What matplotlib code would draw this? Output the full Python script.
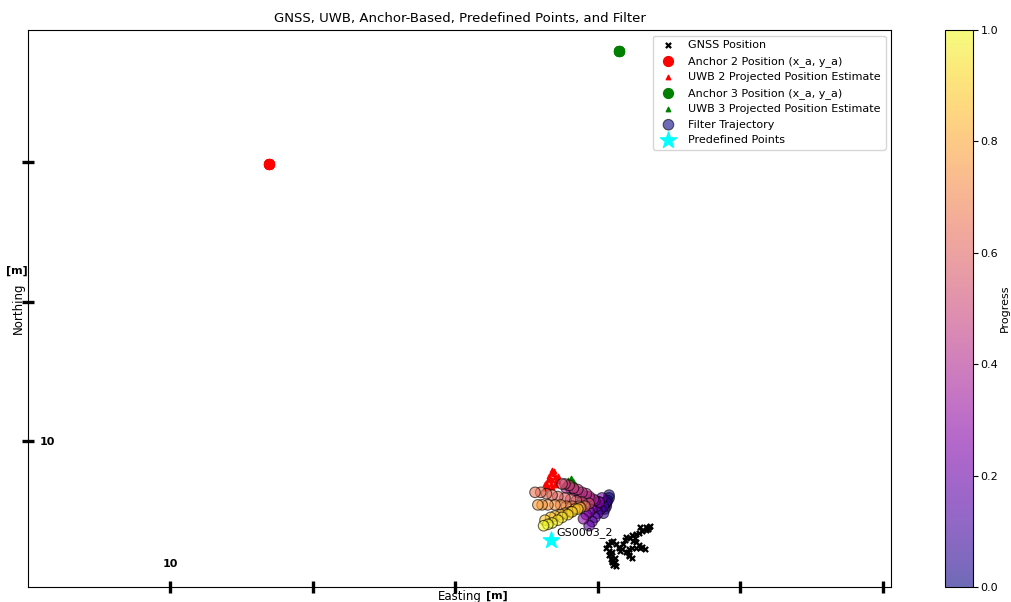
import numpy as np
import matplotlib
matplotlib.use("Agg")
import matplotlib.pyplot as plt
from matplotlib.ticker import FixedLocator, FixedFormatter

# GNSS fixes [m]
gnss_e = [13.37, 13.36, 13.34, 13.31, 13.29, 13.27, 13.24, 13.23, 13.25, 13.27,
          13.29, 13.31, 13.33, 13.30, 13.27, 13.24, 13.22, 13.21, 13.22, 13.24,
          13.22, 13.20, 13.17, 13.15, 13.13, 13.11, 13.09, 13.08, 13.06, 13.08,
          13.10, 13.09, 13.08, 13.09, 13.10, 13.12, 13.13, 13.11, 13.10, 13.15,
          13.16, 13.18, 13.34, 13.30, 13.20, 13.19, 13.07, 13.12, 13.35, 13.26]
gnss_n = [9.39, 9.38, 9.36, 9.35, 9.34, 9.33, 9.32, 9.30, 9.28, 9.27,
          9.25, 9.24, 9.22, 9.23, 9.23, 9.23, 9.22, 9.20, 9.18, 9.16,
          9.17, 9.20, 9.22, 9.24, 9.26, 9.28, 9.27, 9.25, 9.23, 9.21,
          9.20, 9.19, 9.18, 9.15, 9.14, 9.13, 9.10, 9.11, 9.13, 9.23,
          9.21, 9.26, 9.38, 9.38, 9.31, 9.29, 9.26, 9.16, 9.37, 9.30]

# anchors
anchor2 = (10.69, 11.99)
anchor3 = (13.15, 12.80)

# UWB projected estimates
uwb2_e = [12.68, 12.69, 12.66, 12.70, 12.65, 12.68, 12.72, 12.63, 12.67, 12.70,
          12.63, 12.65, 12.72, 12.71, 12.67, 12.64, 12.69, 12.66, 12.71, 12.68]
uwb2_n = [9.79, 9.76, 9.75, 9.74, 9.72, 9.72, 9.71, 9.69, 9.69, 9.69,
          9.66, 9.67, 9.75, 9.68, 9.77, 9.70, 9.78, 9.73, 9.72, 9.67]
uwb3_e = [12.79, 12.81, 12.83, 12.77, 12.80, 12.84, 12.76, 12.79, 12.82, 12.81]
uwb3_n = [9.72, 9.71, 9.71, 9.70, 9.69, 9.69, 9.68, 9.67, 9.68, 9.73]

# filter output
filt_e = [13.08, 13.08, 13.07, 13.06, 13.06, 13.05, 13.04,
          13.06, 13.04, 13.02, 13.00, 12.98, 12.96, 12.94,
          13.03, 13.01, 12.99, 12.96, 12.94, 12.92, 12.90,
          13.01, 12.98, 12.95, 12.92, 12.89, 12.87, 12.84, 12.81, 12.78,
          12.97, 12.94, 12.92, 12.89, 12.86, 12.83, 12.80, 12.77, 12.75,
          12.94, 12.89, 12.85, 12.81, 12.77, 12.72, 12.68, 12.64, 12.60, 12.56,
          12.91, 12.87, 12.82, 12.78, 12.74, 12.70, 12.65, 12.61, 12.58,
          12.88, 12.84, 12.81, 12.77, 12.74, 12.70, 12.67, 12.63,
          12.86, 12.82, 12.79, 12.75, 12.72, 12.68, 12.65, 12.62]
filt_n = [9.61, 9.59, 9.57, 9.55, 9.53, 9.51, 9.48,
          9.56, 9.53, 9.51, 9.48, 9.45, 9.42, 9.39,
          9.59, 9.56, 9.53, 9.51, 9.49, 9.47, 9.44,
          9.56, 9.57, 9.58, 9.60, 9.61, 9.63, 9.64, 9.66, 9.66,
          9.58, 9.60, 9.62, 9.63, 9.65, 9.66, 9.68, 9.69, 9.69,
          9.55, 9.56, 9.57, 9.58, 9.59, 9.60, 9.61, 9.62, 9.63, 9.63,
          9.53, 9.53, 9.53, 9.53, 9.54, 9.54, 9.54, 9.54, 9.54,
          9.52, 9.51, 9.49, 9.48, 9.47, 9.46, 9.45, 9.43,
          9.51, 9.49, 9.47, 9.45, 9.43, 9.41, 9.40, 9.39]
progress = np.linspace(0, 1, len(filt_e))

# predefined points
point_names = ["GS0003_2"]
point_e = [12.67]
point_n = [9.29]

x_ticks = [10, 11, 12, 13, 14, 15]
x_ticklabels = ["10", "", "", "", "", ""]
y_ticks = [10, 11, 12]
y_ticklabels = ["10", "", ""]

fig = plt.figure(figsize=(10.12, 6.02), dpi=100)
ax = fig.add_axes([0.0277, 0.0249, 0.8528, 0.9252])
cax = fig.add_axes([0.9338, 0.0249, 0.0277, 0.9252])

ax.scatter(gnss_e, gnss_n, marker='x', color='black', s=14, linewidths=1.6,
           label='GNSS Position')
ax.scatter([anchor2[0]] * 5, [anchor2[1]] * 5, marker='o', color='red', s=50,
           label='Anchor 2 Position (x_a, y_a)')
ax.scatter(uwb2_e, uwb2_n, marker='^', color='red', s=10,
           label='UWB 2 Projected Position Estimate')
ax.scatter([anchor3[0]] * 5, [anchor3[1]] * 5, marker='o', color='green', s=50,
           label='Anchor 3 Position (x_a, y_a)')
ax.scatter(uwb3_e, uwb3_n, marker='^', color='green', s=10,
           label='UWB 3 Projected Position Estimate')
sc = ax.scatter(filt_e, filt_n, c=progress, cmap='plasma', vmin=0, vmax=1,
                alpha=0.6, edgecolors='black', linewidths=0.8, s=58,
                label='Filter Trajectory')
ax.scatter(point_e, point_n, marker='*', color='cyan', s=150,
           label='Predefined Points')
for name, e, n in zip(point_names, point_e, point_n):
    ax.text(e + 0.04, n + 0.03, name, fontsize=8)

ax.set_xlim(9.0, 15.06)
ax.set_ylim(8.95, 12.95)
ax.xaxis.set_major_locator(FixedLocator(x_ticks))
ax.xaxis.set_major_formatter(FixedFormatter(x_ticklabels))
ax.yaxis.set_major_locator(FixedLocator(y_ticks))
ax.yaxis.set_major_formatter(FixedFormatter(y_ticklabels))
ax.tick_params(axis='both', direction='inout', length=9, width=2.4,
               labelsize=8)
ax.tick_params(axis='x', pad=-25)
ax.tick_params(axis='y', pad=-24)
for lab in ax.get_xticklabels() + ax.get_yticklabels():
    lab.set_fontweight('bold')

ax.set_title('GNSS, UWB, Anchor-Based, Predefined Points, and Filter',
             fontsize=9.5)
ax.set_xlabel('Easting', fontsize=8.5, labelpad=-2)
ax.set_ylabel('Northing', fontsize=8.5, labelpad=-2)
fig.text(0.4806, 0.0055, '[m]', fontsize=8, fontweight='bold', ha='left')
fig.text(0.0163, 0.546, '[m]', fontsize=8, fontweight='bold', ha='center')

ax.legend(loc='upper right', fontsize=8)

cb = fig.colorbar(sc, cax=cax)
cb.ax.tick_params(labelsize=8, pad=2)
cb.set_label('Progress', fontsize=8, labelpad=1)

fig.savefig('out.png', dpi=100)
